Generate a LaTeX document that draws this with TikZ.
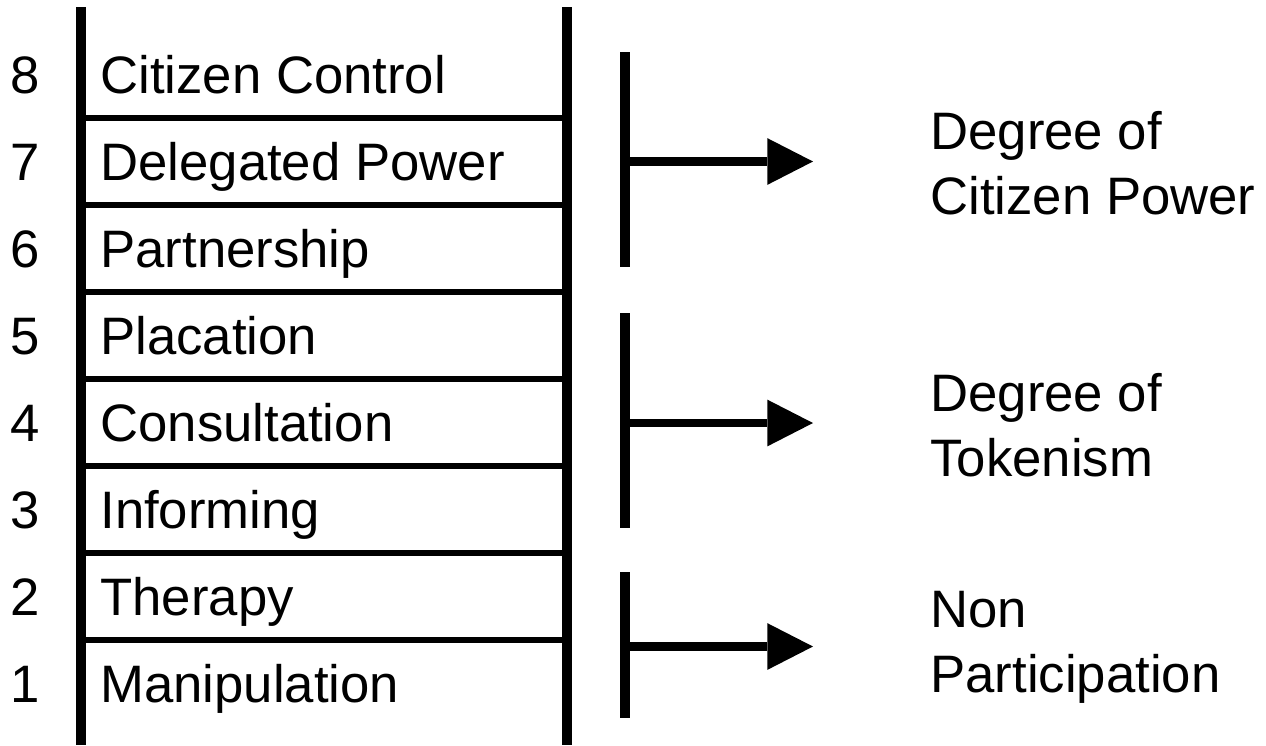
\documentclass[tikz,border=0pt]{standalone}
\usepackage{fontspec}
\setmainfont{Liberation Sans}
\usetikzlibrary{arrows.meta}

\tikzset{
  rail/.style={line width=5.7pt},
  rung/.style={line width=3.4pt},
  bracketbar/.style={line width=5.7pt},
  pointer/.style={line width=5.1pt, -{Triangle[length=26pt,width=26.6pt,line width=0pt]}},
  levelnum/.style={anchor=base, inner sep=0pt},
  rungtext/.style={anchor=base west, inner sep=0pt},
  degreetext/.style={anchor=base west, inner sep=0pt, align=left}
}

\begin{document}
\begin{tikzpicture}[x=0.02cm, y=-0.02cm, font=\fontsize{30}{36.9}\selectfont]
\useasboundingbox (0,0) rectangle (1266,745);

\draw[rail] (81,7) -- (81,745);
\draw[rail] (567,7) -- (567,745);

\draw[rung] (81,118) -- (567,118);
\draw[rung] (81,205) -- (567,205);
\draw[rung] (81,292) -- (567,292);
\draw[rung] (81,379) -- (567,379);
\draw[rung] (81,466) -- (567,466);
\draw[rung] (81,553) -- (567,553);
\draw[rung] (81,640) -- (567,640);

\node[levelnum] (num8) at (25,93.5) {8};
\node[rungtext] (control) at (100,93.5) {Citizen Control};
\node[levelnum] (num7) at (25,180.5) {7};
\node[rungtext] (delegated) at (100,180.5) {Delegated Power};
\node[levelnum] (num6) at (25,267.5) {6};
\node[rungtext] (partnership) at (100,267.5) {Partnership};
\node[levelnum] (num5) at (25,354.5) {5};
\node[rungtext] (placation) at (100,354.5) {Placation};
\node[levelnum] (num4) at (25,441.5) {4};
\node[rungtext] (consultation) at (100,441.5) {Consultation};
\node[levelnum] (num3) at (25,528.5) {3};
\node[rungtext] (informing) at (100,528.5) {Informing};
\node[levelnum] (num2) at (25,615.5) {2};
\node[rungtext] (therapy) at (100,615.5) {Therapy};
\node[levelnum] (num1) at (25,702.5) {1};
\node[rungtext] (manipulation) at (100,702.5) {Manipulation};

\draw[bracketbar] (625,52) -- (625,267);
\coordinate (powerfoot) at (625,161.5);
\coordinate (powertip) at (813,161.5);
\draw[pointer] (powerfoot) -- (powertip);
\node[degreetext] (power) at (930,214.5) {Degree of\\Citizen Power};

\draw[bracketbar] (625,313) -- (625,528);
\coordinate (tokenfoot) at (625,423);
\coordinate (tokentip) at (813,423);
\draw[pointer] (tokenfoot) -- (tokentip);
\node[degreetext] (tokenism) at (930,476) {Degree of\\Tokenism};

\draw[bracketbar] (625,572) -- (625,718);
\coordinate (nonfoot) at (625,646.5);
\coordinate (nontip) at (813,646.5);
\draw[pointer] (nonfoot) -- (nontip);
\node[degreetext] (nonpart) at (930,692) {Non\\Participation};
\end{tikzpicture}
\end{document}
